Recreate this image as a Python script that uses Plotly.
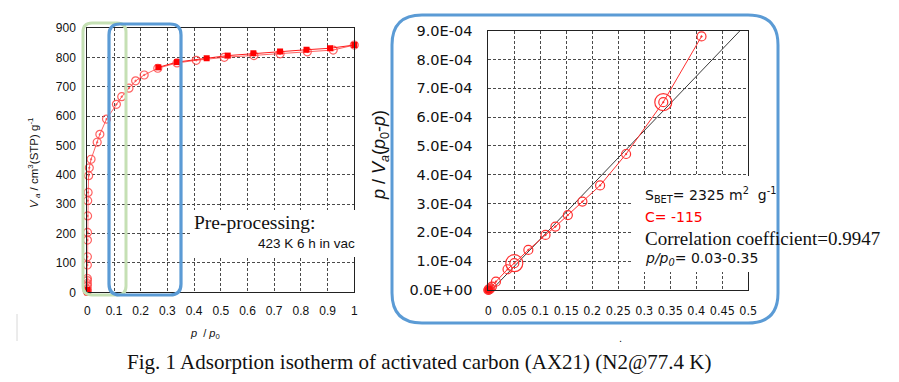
import plotly.graph_objects as go

# ---------------- data ----------------
# Adsorption isotherm (open circles)
iso_ads_x = [0.00001, 0.00002, 0.00003, 0.00005, 0.00008, 0.0001, 0.0002, 0.0003, 0.0005,
             0.0007, 0.001, 0.0015, 0.003, 0.005, 0.0075, 0.014, 0.037, 0.047, 0.072,
             0.109, 0.129, 0.156, 0.181, 0.213, 0.264, 0.336, 0.408, 0.513, 0.624,
             0.722, 0.824, 0.921, 1.0]
iso_ads_y = [3, 10, 22, 30, 40, 47, 93, 121, 178, 204, 260, 312, 340, 397, 424, 453,
             511, 538, 590, 640, 666, 695, 720, 740, 763, 781, 790, 800, 806, 812,
             819, 825, 842]
# Desorption branch (filled squares)
iso_des_x = [1.0, 0.909, 0.821, 0.722, 0.622, 0.526, 0.447, 0.336, 0.266]
iso_des_y = [842, 831, 826, 820, 814, 806, 797, 784, 766]
# Lowest-pressure filled points
iso_low_x = [0.0, 0.0, 0.0]
iso_low_y = [0, 4, 8]

# BET plot
bet_x = [0.0, 0.001, 0.002, 0.004, 0.007, 0.0147, 0.037, 0.05, 0.077, 0.110, 0.129,
         0.153, 0.181, 0.215, 0.265, 0.3365, 0.410]
bet_y = [0, 1.5e-6, 3e-6, 6e-6, 1.2e-5, 2.9e-5, 7.2e-5, 9.3e-5, 1.39e-4, 1.91e-4,
         2.2e-4, 2.6e-4, 3.07e-4, 3.63e-4, 4.72e-4, 6.52e-4, 8.8e-4]
bet_low_x = [0.0, 0.001, 0.002]
bet_low_y = [0.0, 1.5e-6, 3e-6]
bet_mark_x = [0.05, 0.3365]
bet_mark_y = [9.3e-5, 6.52e-4]
fit_slope = 1.884e-3
fit_intercept = -1.2e-5
fit_x = [0.0064, 0.484]
fit_y = [fit_slope * v + fit_intercept for v in fit_x]

left_xticks = [0, 0.1, 0.2, 0.3, 0.4, 0.5, 0.6, 0.7, 0.8, 0.9, 1.0]
left_xtext = ["0", "0.1", "0.2", "0.3", "0.4", "0.5", "0.6", "0.7", "0.8", "0.9", "1"]
left_yticks = [0, 100, 200, 300, 400, 500, 600, 700, 800, 900]
left_ytext = ["0", "100", "200", "300", "400", "500", "600", "700", "800", "900"]
right_xticks = [0, 0.05, 0.1, 0.15, 0.2, 0.25, 0.3, 0.35, 0.4, 0.45, 0.5]
right_xtext = ["0", "0.05", "0.1", "0.15", "0.2", "0.25", "0.3", "0.35", "0.4", "0.45", "0.5"]
right_yticks = [0, 1e-4, 2e-4, 3e-4, 4e-4, 5e-4, 6e-4, 7e-4, 8e-4, 9e-4]
right_ytext = ["0.0E+00", "1.0E-04", "2.0E-04", "3.0E-04", "4.0E-04", "5.0E-04",
               "6.0E-04", "7.0E-04", "8.0E-04", "9.0E-04"]

# ---------------- figure ----------------
W, H = 899, 382


def px(x):
    return x / W


def py(y):
    return 1 - y / H


def rrect(x0, y0, x1, y1, r):
    pts = [
        ("M", [(x0 + r, y0)]), ("L", [(x1 - r, y0)]), ("Q", [(x1, y0), (x1, y0 + r)]),
        ("L", [(x1, y1 - r)]), ("Q", [(x1, y1), (x1 - r, y1)]), ("L", [(x0 + r, y1)]),
        ("Q", [(x0, y1), (x0, y1 - r)]), ("L", [(x0, y0 + r)]), ("Q", [(x0, y0), (x0 + r, y0)]),
    ]
    s = ""
    for cmd, cs in pts:
        s += cmd + " " + " ".join(f"{px(a):.5f},{py(b):.5f}" for a, b in cs) + " "
    return s + "Z"


fig = go.Figure()

ads_col = "rgba(255,70,70,0.85)"
fig.add_trace(go.Scatter(x=iso_ads_x, y=iso_ads_y, mode="lines+markers",
                         line=dict(color=ads_col, width=1),
                         marker=dict(symbol="circle-open-dot", size=8, color=ads_col,
                                     line=dict(width=1.2)),
                         cliponaxis=False, xaxis="x", yaxis="y", showlegend=False))
fig.add_trace(go.Scatter(x=iso_des_x, y=iso_des_y, mode="lines+markers",
                         line=dict(color="#ff1a1a", width=1),
                         marker=dict(symbol="square", size=6, color="#ff0000"),
                         cliponaxis=False, xaxis="x", yaxis="y", showlegend=False))
fig.add_trace(go.Scatter(x=iso_low_x, y=iso_low_y, mode="markers",
                         marker=dict(symbol="square", size=6, color="#ff0000"),
                         cliponaxis=False, xaxis="x", yaxis="y", showlegend=False))

fig.add_trace(go.Scatter(x=fit_x, y=fit_y, mode="lines",
                         line=dict(color="#3a3a3a", width=1),
                         xaxis="x2", yaxis="y2", showlegend=False))
fig.add_trace(go.Scatter(x=bet_x, y=bet_y, mode="lines+markers",
                         line=dict(color="#ff3030", width=1),
                         marker=dict(symbol="circle-open-dot", size=9, color="#ff3030",
                                     line=dict(width=1.2)),
                         cliponaxis=False, xaxis="x2", yaxis="y2", showlegend=False))
fig.add_trace(go.Scatter(x=bet_low_x, y=bet_low_y, mode="markers",
                         marker=dict(symbol="circle", size=7, color="#ff1010"),
                         cliponaxis=False, xaxis="x2", yaxis="y2", showlegend=False))
fig.add_trace(go.Scatter(x=bet_mark_x, y=bet_mark_y, mode="markers",
                         marker=dict(symbol="circle-open", size=17, color="#ff3030",
                                     line=dict(width=1.2)),
                         cliponaxis=False, xaxis="x2", yaxis="y2", showlegend=False))

grid = dict(showgrid=True, gridcolor="#4a4a4a", gridwidth=1, griddash="3px,2px",
            zeroline=False, showline=True, linecolor="#222", linewidth=1, mirror=True,
            ticks="", fixedrange=True, automargin=False)

fig.update_layout(
    width=W, height=H, autosize=False,
    margin=dict(l=0, r=0, t=0, b=0, pad=0),
    paper_bgcolor="white", plot_bgcolor="white",
    xaxis=dict(domain=[px(87.3), px(354.3)], range=[0, 1], anchor="y",
               tickvals=left_xticks, ticktext=left_xtext,
               tickfont=dict(family="Liberation Sans, Arial", size=12, color="#111"),
               ticklabelstandoff=7, **grid),
    yaxis=dict(domain=[py(292.3), py(28)], range=[0, 900], anchor="x",
               tickvals=left_yticks, ticktext=left_ytext,
               tickfont=dict(family="Liberation Sans, Arial", size=12, color="#111"),
               ticklabelstandoff=8, **grid),
    xaxis2=dict(domain=[px(488.3), px(748.3)], range=[0, 0.5], anchor="y2",
                tickvals=right_xticks, ticktext=right_xtext,
                tickfont=dict(family="DejaVu Sans Condensed, DejaVu Sans", size=12.5, color="#111"),
                ticklabelstandoff=9, **grid),
    yaxis2=dict(domain=[py(290), py(30.7)], range=[0, 9e-4], anchor="x2",
                tickvals=right_yticks, ticktext=right_ytext,
                tickfont=dict(family="DejaVu Sans", size=14.5, color="#111"),
                ticklabelstandoff=12, **grid),
)

shapes = []
# white boxes behind annotations
shapes.append(dict(type="rect", xref="paper", yref="paper",
                   x0=px(191), x1=px(361), y0=py(257), y1=py(210),
                   fillcolor="white", line=dict(width=0), layer="above"))
shapes.append(dict(type="rect", xref="paper", yref="paper",
                   x0=px(633), x1=px(886), y0=py(272), y1=py(176),
                   fillcolor="white", line=dict(width=0), layer="above"))
# highlight frames on left plot
shapes.append(dict(type="path", xref="paper", yref="paper", path=rrect(83, 23, 126, 295, 9),
                   line=dict(color="#c5e0b4", width=3), layer="above"))
shapes.append(dict(type="path", xref="paper", yref="paper", path=rrect(109, 24, 181, 295, 11),
                   line=dict(color="#5b9bd5", width=3.2), layer="above"))
# frame around right plot
shapes.append(dict(type="path", xref="paper", yref="paper", path=rrect(392, 15, 778, 323, 30),
                   line=dict(color="#5b9bd5", width=3), layer="above"))
# faint line at left bottom
shapes.append(dict(type="line", xref="paper", yref="paper",
                   x0=px(17), x1=px(17), y0=py(314), y1=py(341),
                   line=dict(color="#d8d8d8", width=1)))
fig.update_layout(shapes=shapes)


def note(text, x, y, size, family, color="#111", xanchor="left", angle=0):
    return dict(text=text, x=px(x), y=py(y), xref="paper", yref="paper",
                xanchor=xanchor, yanchor="middle", showarrow=False, textangle=angle,
                font=dict(family=family, size=size, color=color))


SANS = "Liberation Sans, Arial"
SERIF = "Liberation Serif, Times New Roman"
DJ = "DejaVu Sans"

ann = [
    note("<i>V</i><sub><i> a</i></sub> / cm<sup>3</sup>(STP) g<sup>-1</sup>", 34, 163, 11.5,
         SANS, xanchor="center", angle=-90),
    note("<i>p</i>  / <i>p</i><sub>0</sub>", 205, 334, 11, SANS, xanchor="center"),
    note("<i>p</i> / <i>V</i><sub><i>a</i></sub>(<i>p</i><sub>0</sub>-<i>p</i>)", 380, 155, 18,
         SANS, xanchor="center", angle=-90),
    note("Pre-processing:", 192, 222, 19.5, SERIF),
    note("423 K 6 h in vac", 256, 243, 13.5, SANS),
    note("S<sub>BET</sub>= 2325 m<sup>2</sup>  g<sup>-1</sup>", 643, 195, 14, DJ),
    note("C= -115", 643, 217, 14, DJ, color="#ff0000"),
    note("Correlation coefficient=0.9947", 643, 238, 19, SERIF),
    note("<i>p/p<sub>0</sub></i>= 0.03-0.35", 643, 259, 14, DJ),
    note(".", 620, 338, 11, SANS, xanchor="center"),
    note("Fig. 1 Adsorption isotherm of activated carbon (AX21) (N2@77.4 K)", 125, 362, 21, SERIF),
]
fig.update_layout(annotations=ann)

fig.write_html("out.html", config={"displayModeBar": False, "staticPlot": True},
               post_script="document.body.style.margin='0';document.body.style.overflow='hidden';")
